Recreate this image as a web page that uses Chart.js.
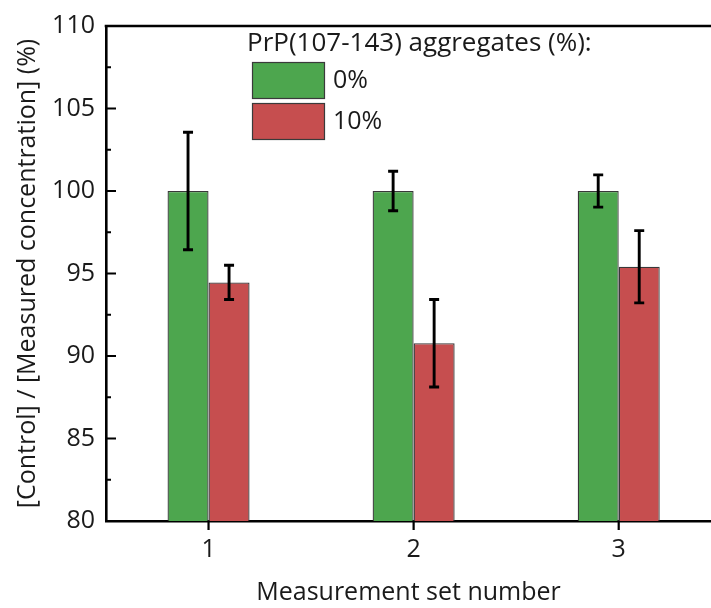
<!DOCTYPE html>
<html>
<head>
<meta charset="utf-8">
<script src="https://cdn.jsdelivr.net/npm/chart.js@4/dist/chart.umd.min.js"></script>
<style>
html,body{margin:0;padding:0;background:#fff;overflow:hidden;}
#wrap{width:711px;height:608px;position:relative;}
</style>
</head>
<body>
<div id="wrap"><canvas id="c" width="711" height="608"></canvas></div>
<script>
// ---- data ----
const categories = [1, 2, 3];
const seriesLabels = ['0%', '10%'];
const values0 = [100, 100, 100];
const errors0 = [3.56, 1.2, 0.98];
const values10 = [94.46, 90.77, 95.41];
const errors10 = [1.04, 2.65, 2.19];
const yTicks = [80, 85, 90, 95, 100, 105, 110];
const legendTitle = 'PrP(107-143) aggregates (%):';
const xTitle = 'Measurement set number';
const yTitle = '[Control] / [Measured concentration] (%)';

const FONT = "'Open Sans', 'Noto Sans', sans-serif";
const TXT = '#1a1a1a';
const colors = ['#4da64e', '#c64e4f'];
const errs = [errors0, errors10];

const errorBars = {
  id: 'errorBars',
  afterDatasetsDraw(chart) {
    const ctx = chart.ctx, ys = chart.scales.y;
    ctx.save();
    ctx.strokeStyle = '#000';
    ctx.lineWidth = 2.9;
    chart.data.datasets.forEach((ds, i) => {
      const meta = chart.getDatasetMeta(i);
      meta.data.forEach((el, j) => {
        const v = ds.data[j].y, e = errs[i][j];
        const x = el.x;
        const t = ys.getPixelForValue(v + e), b = ys.getPixelForValue(v - e);
        ctx.beginPath();
        ctx.moveTo(x, t); ctx.lineTo(x, b);
        ctx.moveTo(x - 5, t); ctx.lineTo(x + 5, t);
        ctx.moveTo(x - 5, b); ctx.lineTo(x + 5, b);
        ctx.stroke();
      });
    });
    ctx.restore();
  }
};

const frame = {
  id: 'frame',
  afterDraw(chart) {
    const ctx = chart.ctx, a = chart.chartArea, ys = chart.scales.y, xs = chart.scales.x;
    ctx.save();
    ctx.strokeStyle = '#000';
    ctx.lineWidth = 2.6;
    ctx.beginPath();
    ctx.moveTo(a.left - 1.3, a.top); ctx.lineTo(chart.width, a.top);
    ctx.stroke();
    // y ticks (inward), majors and minors
    ctx.lineWidth = 2.2;
    ctx.beginPath();
    for (let k = 0; k < yTicks.length; k++) {
      const p = ys.getPixelForValue(yTicks[k]);
      ctx.moveTo(a.left, p); ctx.lineTo(a.left + 10, p);
      if (k < yTicks.length - 1) {
        const pm = ys.getPixelForValue((yTicks[k] + yTicks[k + 1]) / 2);
        ctx.moveTo(a.left, pm); ctx.lineTo(a.left + 5, pm);
      }
    }
    // x ticks (outward)
    categories.forEach(c => {
      const p = xs.getPixelForValue(c);
      ctx.moveTo(p, a.bottom); ctx.lineTo(p, a.bottom + 9);
    });
    ctx.stroke();
    // legend
    ctx.fillStyle = TXT;
    ctx.font = '26px ' + FONT;
    ctx.textBaseline = 'middle';
    ctx.textAlign = 'left';
    ctx.fillText(legendTitle, 247, 44);
    chart.data.datasets.forEach((ds, i) => {
      const y0 = 62 + i * 41;
      ctx.fillStyle = ds.backgroundColor;
      ctx.fillRect(252, y0, 73, 37);
      ctx.strokeStyle = '#3a3a3a';
      ctx.lineWidth = 1.2;
      ctx.strokeRect(252.5, y0 + 0.5, 72, 36);
      ctx.fillStyle = TXT;
      ctx.font = '25px ' + FONT;
      ctx.fillText(ds.label, 333, y0 + 19);
    });
    ctx.restore();
  }
};

new Chart(document.getElementById('c'), {
  type: 'bar',
  data: {
    datasets: [
      { label: seriesLabels[0], data: categories.map((c, i) => ({ x: c, y: values0[i] })),
        backgroundColor: colors[0], borderColor: '#383838', borderWidth: 1.3 },
      { label: seriesLabels[1], data: categories.map((c, i) => ({ x: c, y: values10[i] })),
        backgroundColor: colors[1], borderColor: '#383838', borderWidth: 1.3 }
    ]
  },
  options: {
    responsive: false,
    animation: false,
    layout: { padding: { left: 0, right: 0, top: 25, bottom: 0 } },
    datasets: { bar: { categoryPercentage: 0.4, barPercentage: 1.0 } },
    plugins: { legend: { display: false }, tooltip: { enabled: false } },
    scales: {
      x: {
        type: 'linear', offset: false, min: 0.5, max: 3.45,
        afterFit(s) { s.height = 87; },
        afterBuildTicks(s) { s.ticks = categories.map(v => ({ value: v })); },
        grid: { display: false, drawTicks: false },
        border: { display: true, color: '#000', width: 2.6 },
        ticks: { color: TXT, font: { family: FONT, size: 25 }, padding: 14, autoSkip: false, maxRotation: 0 },
        title: { display: true, text: xTitle, color: TXT, font: { family: FONT, size: 25 }, padding: { top: 9, bottom: 0 } }
      },
      y: {
        min: 80, max: 110,
        afterFit(s) { s.width = 106; },
        afterBuildTicks(s) { s.ticks = yTicks.map(v => ({ value: v })); },
        grid: { display: false, drawTicks: false },
        border: { display: true, color: '#000', width: 2.6 },
        ticks: { color: TXT, font: { family: FONT, size: 25 }, padding: 11 },
        title: { display: true, text: yTitle, color: TXT, font: { family: FONT, size: 25 }, padding: { top: 13, bottom: 0 } }
      }
    }
  },
  plugins: [errorBars, frame]
});
</script>
</body>
</html>
